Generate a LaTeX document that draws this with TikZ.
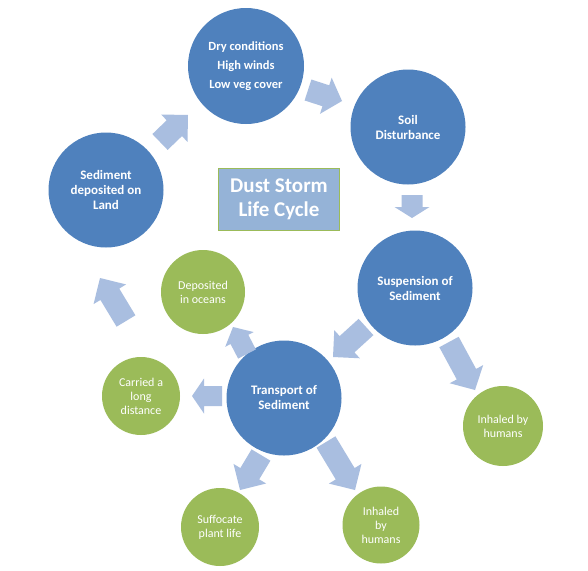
\documentclass[tikz,border=0pt]{standalone}
\usepackage{fontspec}
\setmainfont{Carlito}
\usetikzlibrary{calc}
\definecolor{cblue}{RGB}{79,129,189}
\definecolor{cgreen}{RGB}{155,187,89}
\definecolor{carrow}{RGB}{169,190,224}
\definecolor{ctitle}{RGB}{149,179,215}
\newcommand\blockarrow[5]{%
  \coordinate (bah) at ($(#2)!#5!(#1)$);
  \fill[arrowfill] ($(#1)!#3!90:(#2)$) -- ($(bah)!#3!90:(#2)$) -- ($(bah)!#4!90:(#2)$) -- (#2)
    -- ($(bah)!#4!-90:(#2)$) -- ($(bah)!#3!-90:(#2)$) -- ($(#1)!#3!-90:(#2)$) -- cycle;
}
\begin{document}
\begin{tikzpicture}[x=1pt,y=-1pt,
  bc/.style={circle, fill=cblue, inner sep=0pt, text=white, align=center,
    font=\fontsize{13}{15}\selectfont\bfseries},
  gc/.style={circle, fill=cgreen, inner sep=0pt, text=white, align=center,
    font=\fontsize{12}{14}\selectfont},
  titlebox/.style={rectangle, fill=ctitle, draw=cgreen, line width=1.5pt, text=white,
    align=center, minimum width=121pt, minimum height=62pt, inner sep=0pt,
    font=\fontsize{21}{24}\selectfont\bfseries},
  arrowfill/.style={fill=carrow}]
\useasboundingbox (0,0) rectangle (588,570);
\fill[white] (0,0) rectangle (588,570);

% main cycle circles
\node[bc, minimum size=116pt, font=\fontsize{12.5}{19}\selectfont\bfseries] (dry) at (246,66) {Dry conditions\\High winds\\Low veg cover};
\node[bc, minimum size=115pt] (soil) at (408,127) {Soil\\Disturbance};
\node[bc, minimum size=115pt] (susp) at (415,288) {Suspension of\\Sediment};
\node[bc, minimum size=115pt] (trans) at (284,398) {Transport of\\Sediment};
\node[bc, minimum size=115pt] (land) at (106,190) {Sediment\\deposited on\\Land};

% green outcome circles
\node[gc, minimum size=84pt] (ocean) at (203,292) {Deposited\\in oceans};
\node[gc, minimum size=78pt] (carried) at (141,396) {Carried a\\long\\distance};
\node[gc, minimum size=80pt] (inhr) at (503,426) {Inhaled by\\humans};
\node[gc, minimum size=78pt] (suff) at (220,527) {Suffocate\\plant life};
\node[gc, minimum size=77pt] (inhb) at (381,525) {Inhaled\\by\\humans};

% title
\node[titlebox] (title) at (279,199.5) {Dust Storm\\Life Cycle};

% block arrow end points
\coordinate (a1t) at (160,142); \coordinate (a1h) at (188,115);
\coordinate (a2t) at (308,90);  \coordinate (a2h) at (342,101);
\coordinate (a3t) at (412,195); \coordinate (a3h) at (412,218);
\coordinate (a4t) at (366,327); \coordinate (a4h) at (333,357);
\coordinate (a5t) at (449,342); \coordinate (a5h) at (475,390);
\coordinate (a6t) at (247,354); \coordinate (a6h) at (233,327);
\coordinate (a7t) at (222,396); \coordinate (a7h) at (192,396);
\coordinate (a8t) at (261,455); \coordinate (a8h) at (240,490);
\coordinate (a9t) at (326,442); \coordinate (a9h) at (355,490);
\coordinate (a10t) at (126,321); \coordinate (a10h) at (100,278);

\blockarrow{a1t}{a1h}{11pt}{19pt}{19pt}
\blockarrow{a2t}{a2h}{11pt}{19pt}{17pt}
\blockarrow{a3t}{a3h}{10.5pt}{17.5pt}{11pt}
\blockarrow{a4t}{a4h}{11pt}{19pt}{19pt}
\blockarrow{a5t}{a5h}{11pt}{19pt}{18pt}
\blockarrow{a6t}{a6h}{10pt}{16pt}{14pt}
\blockarrow{a7t}{a7h}{10pt}{17.5pt}{12pt}
\blockarrow{a8t}{a8h}{11pt}{19pt}{19pt}
\blockarrow{a9t}{a9h}{11pt}{19pt}{19pt}
\blockarrow{a10t}{a10h}{11pt}{19pt}{19pt}
\end{tikzpicture}
\end{document}
